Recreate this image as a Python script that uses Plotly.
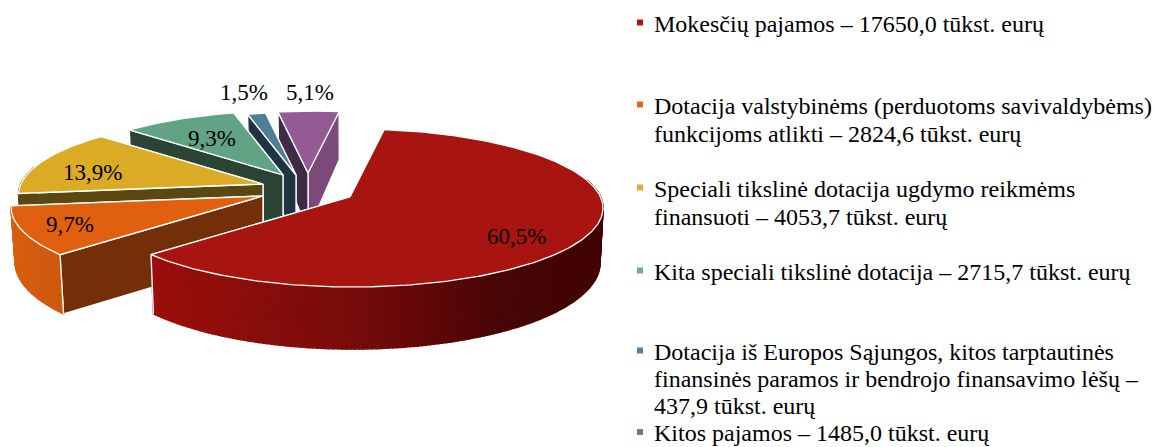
import math
import plotly.graph_objects as go

# ---- data ----
categories = ["Mokesčių pajamos", "Dotacija valstybinėms", "Speciali tikslinė dotacija",
              "Kita speciali tikslinė dotacija", "Dotacija iš Europos Sąjungos", "Kitos pajamos"]
values = [17650.0, 2824.6, 4053.7, 2715.7, 437.9, 1485.0]
legend_lines = [
    ["Mokesčių pajamos – 17650,0 tūkst. eurų"],
    ["Dotacija valstybinėms (perduotoms savivaldybėms)", "funkcijoms atlikti – 2824,6 tūkst. eurų"],
    ["Speciali tikslinė dotacija ugdymo reikmėms", "finansuoti – 4053,7 tūkst. eurų"],
    ["Kita speciali tikslinė dotacija – 2715,7 tūkst. eurų"],
    ["Dotacija iš Europos Sąjungos, kitos tarptautinės", "finansinės paramos ir bendrojo finansavimo lėšų –", "437,9 tūkst. eurų"],
    ["Kitos pajamos – 1485,0 tūkst. eurų"],
]

# ---- style / geometry ----
top_colors = ["#a81410", "#e0600f", "#dbab26", "#62a386", "#4e7f96", "#935a95"]
start_wall = ["#7a0c0a", "#722f08", "#5a4810", "#2a4535", "#1f3641", "#3f2a47"]
end_wall = ["#7a0c0a", "#722f08", "#5a4810", "#2a4535", "#1f3641", "#7b4a7b"]
apex = [(350, 197), (263, 196), (263, 184), (283, 175), (296, 175), (308, 173)]
scale = [1.0, 1.02, 0.99, 0.94, 0.92, 0.91]
label_pos = [(516, 236), (70, 224), (92, 172), (212, 138), (244, 92), (310, 92)]
legend_x, marker_x = 654, 640
legend_y = [[24], [106, 134], [189, 217], [272], [352, 379, 406], [433]]
marker_y = [22.5, 104.5, 187.5, 270.5, 350.5, 432]
FIRST_ANGLE = 8.5
A, B, S = 250.0, 79.0, 0.17
OFF_X, OFF_Y = 3.0, 11.0


def project(theta, i):
    """Pie angle (deg, clockwise from top) to pixel position on slice i's top rim."""
    X, Y = math.sin(math.radians(theta)), math.cos(math.radians(theta))
    d = 1 + S * Y
    Yp = (Y + S) / d
    Xp = X * math.sqrt(1 - S * S) / d
    ax, ay = apex[i]
    return ax + scale[i] * (OFF_X + A * Xp), ay + scale[i] * (OFF_Y - B * Yp), Yp


def drop(x, y, yp):
    """Lower edge point of the extrusion below a top-surface point."""
    depth = 55 - 7 * yp
    return x + (350 - x) * 0.012, y + depth


def poly(xs, ys, fill, line="white", width=1.3):
    return go.Scatter(x=xs + xs[:1], y=ys + ys[:1], mode="lines", fill="toself", fillcolor=fill,
                      line=dict(color=line, width=width), hoverinfo="skip", showlegend=False)


def mix(c1, c2, t):
    return "rgb(%d,%d,%d)" % tuple(round(a + (b - a) * t) for a, b in zip(c1, c2))


def rim_color(i, x):
    if i == 0:
        stops = [(150, (155, 15, 12)), (350, (120, 12, 10)), (500, (72, 5, 5)), (603, (66, 4, 4))]
        for (x0, c0), (x1, c1) in zip(stops, stops[1:]):
            if x <= x1:
                return mix(c0, c1, max(0, (x - x0) / (x1 - x0)))
        return mix(stops[-1][1], stops[-1][1], 0)
    if i == 1:
        return mix((217, 96, 14), (205, 88, 15), min(1, x / 60))
    return end_wall[i]


total = sum(values)
fig = go.Figure()
angles = [FIRST_ANGLE]
for v in values:
    angles.append(angles[-1] + v / total * 360)

for i in [5, 4, 3, 2, 1, 0]:
    a0, a1 = angles[i], angles[i + 1]
    n = max(8, int((a1 - a0) * 1.2))
    thetas = [a0 + (a1 - a0) * k / n for k in range(n + 1)]
    pts = [project(t, i) for t in thetas]
    ax, ay = apex[i]
    abx, aby = ax, ay + 58
    x0, y0, p0 = pts[0]
    bx0, by0 = drop(x0, y0, p0)
    x1, y1, p1 = pts[-1]
    bx1, by1 = drop(x1, y1, p1)
    # hidden radial wall first, then the visible one on top of it
    fig.add_trace(poly([ax, x1, bx1, abx], [ay, y1, by1, aby], end_wall[i]))
    fig.add_trace(poly([ax, x0, bx0, abx], [ay, y0, by0, aby], start_wall[i]))
    # outer rim, facing part only
    for (xa, ya, pa), (xb, yb, pb) in zip(pts, pts[1:]):
        if pa > 0.35 and pb > 0.35:
            continue
        c = rim_color(i, (xa + xb) / 2)
        b1 = drop(xa, ya, pa)
        b2 = drop(xb, yb, pb)
        fig.add_trace(poly([xa, xb, b2[0], b1[0]], [ya, yb, b2[1], b1[1]], c, line=c, width=1.5))
    # white edge where a wall meets the rim
    if i in (0, 1):
        fig.add_trace(go.Scatter(x=[x1, bx1] if i == 0 else [x0, bx0], y=[y1, by1] if i == 0 else [y0, by0],
                                 mode="lines", line=dict(color="white", width=1.3),
                                 hoverinfo="skip", showlegend=False))
    # top surface
    fig.add_trace(poly([ax] + [p[0] for p in pts], [ay] + [p[1] for p in pts], top_colors[i]))

annotations = []
for i, (lx, ly) in enumerate(label_pos):
    txt = f"{values[i] / total * 100:.1f}%".replace(".", ",")
    annotations.append(dict(x=lx, y=ly, text=txt, showarrow=False, xanchor="center", yanchor="middle", borderpad=0,
                            font=dict(family="Liberation Serif", size=23, color="black")))
for i, lines in enumerate(legend_lines):
    for t, ly in zip(lines, legend_y[i]):
        annotations.append(dict(x=legend_x, y=ly, text=t, showarrow=False, xanchor="left", yanchor="middle", borderpad=0,
                                xshift=-1, font=dict(family="Liberation Serif", size=24, color="black")))
fig.add_trace(go.Scatter(x=[marker_x] * 6, y=marker_y, mode="markers",
                         marker=dict(symbol="square", size=6, color=["#b01210", "#e8641a", "#e5b02a",
                                                                     "#6fae92", "#52839a", "#9b5f9e"]),
                         hoverinfo="skip", showlegend=False))

fig.update_layout(width=1154, height=447, margin=dict(l=0, r=0, t=0, b=0), plot_bgcolor="white",
                  paper_bgcolor="white", showlegend=False, annotations=annotations,
                  xaxis=dict(range=[0, 1154], visible=False, fixedrange=True),
                  yaxis=dict(range=[447, 0], visible=False, fixedrange=True))
fig.write_html("out.html", config=dict(displayModeBar=False),
               post_script="document.body.style.margin='0';document.body.style.overflow='hidden';")
